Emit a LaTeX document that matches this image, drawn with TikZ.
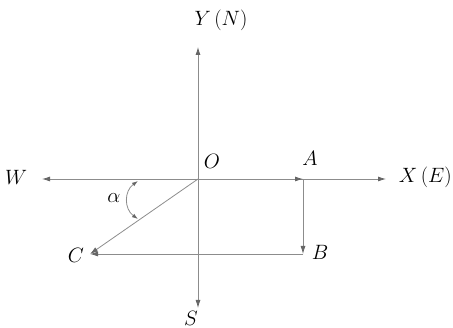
\documentclass[tikz,border=0pt]{standalone}
\usetikzlibrary{arrows.meta}
\begin{document}
\begin{tikzpicture}[x=1pt,y=-1pt,
  axis/.style={draw=black!45, line width=0.8pt, -{Latex[length=8pt,width=5pt,color=black!60]}},
  vec/.style={draw=black!45, line width=0.8pt, -{Latex[length=8pt,width=5pt,color=black!60]}},
  lbl/.style={inner sep=0pt, font=\fontsize{21}{24}\selectfont}]
\useasboundingbox (0,0) rectangle (453,328);
\coordinate (O) at (198,179);
\coordinate (N) at (198,47);
\coordinate (Sd) at (198,308);
\coordinate (Wd) at (42,179);
\coordinate (E) at (386,179);
\coordinate (A) at (303,179);
\coordinate (B) at (303,254);
\coordinate (C) at (90,254);
\draw[axis] (O) -- (N);
\draw[axis] (O) -- (Sd);
\draw[axis] (O) -- (Wd);
\draw[axis] (O) -- (E);
\draw[vec] (O) -- (A);
\draw[vec] (A) -- (B);
\draw[vec] (B) -- (C);
\draw[vec] (O) -- (C);
\coordinate (a1) at (138,181);
\coordinate (a2) at (138,219);
\draw[draw=black!45, line width=0.8pt, {Latex[length=6pt,width=4pt,color=black!60]}-{Latex[length=6pt,width=4pt,color=black!60]}]
  (a1) .. controls (124,191) and (124,209) .. (a2);
\node[lbl] (ly) at (221,20) {$Y\,(N)$};
\node[lbl] (ls) at (191,318) {$S$};
\node[lbl] (lw) at (16,177) {$W$};
\node[lbl, anchor=east] (lx) at (452,177) {$X\,(E)$};
\node[lbl] (lo) at (212,161) {$O$};
\node[lbl] (la) at (310,158) {$A$};
\node[lbl] (lb) at (320,252) {$B$};
\node[lbl] (lc) at (76,255) {$C$};
\node[lbl] (lal) at (114,198) {$\alpha$};
\end{tikzpicture}
\end{document}
